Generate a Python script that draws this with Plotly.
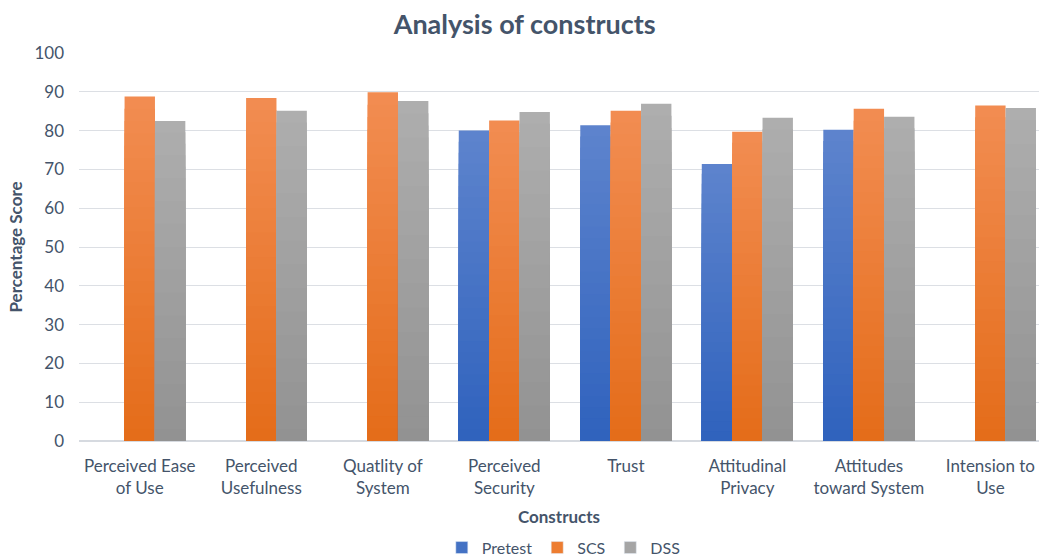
import plotly.graph_objects as go

# Constructs and scores (%)
categories = [
    "Perceived Ease<br>of Use",
    "Perceived<br>Usefulness",
    "Quatlity of<br>System",
    "Perceived<br>Security",
    "Trust",
    "Attitudinal<br>Privacy",
    "Attitudes<br>toward System",
    "Intension to<br>Use",
]
pretest = [None, None, None, 80.0, 81.4, 71.4, 80.2, None]
scs = [88.8, 88.4, 89.9, 82.6, 85.1, 79.7, 85.6, 86.5]
dss = [82.5, 85.1, 87.6, 84.8, 86.9, 83.3, 83.6, 85.8]

series_names = ["Pretest", "SCS", "DSS"]
series_values = [pretest, scs, dss]
# (top colour, bottom colour, legend colour) for the vertical gradient fill
series_colors = [
    ("#5E84CD", "#2F62BD", "#4472C4"),
    ("#F28D52", "#E46C19", "#ED7D31"),
    ("#AEAEAE", "#929292", "#A5A5A5"),
]
offsets = [-0.375, -0.125, 0.125]

TEXT = "#44546A"
FONT = "Lato, 'Open Sans', sans-serif"
N_STEPS = 28


def hex_to_rgb(h):
    h = h.lstrip("#")
    return tuple(int(h[i:i + 2], 16) for i in (0, 2, 4))


def mix(top, bottom, t):
    a, b = hex_to_rgb(top), hex_to_rgb(bottom)
    c = [round(b[i] + (a[i] - b[i]) * t) for i in range(3)]
    return "rgb({},{},{})".format(*c)


x_idx = list(range(len(categories)))
fig = go.Figure()

for name, vals, (top, bottom, legend_col), off in zip(series_names, series_values, series_colors, offsets):
    # stacked overlays of decreasing height give each bar a top-to-bottom gradient
    for k in range(N_STEPS):
        frac = (N_STEPS - k) / N_STEPS
        t = (N_STEPS - k - 0.5) / N_STEPS
        heights = [None if v is None else v * frac for v in vals]
        fig.add_trace(go.Bar(
            x=x_idx, y=heights, width=0.25, offset=off,
            marker=dict(color=mix(top, bottom, t), line=dict(width=0)),
            showlegend=False, hoverinfo="skip",
        ))
    # legend entry
    fig.add_trace(go.Bar(
        x=x_idx, y=[None] * len(x_idx), name=name,
        marker=dict(color=legend_col), showlegend=True,
    ))

fig.update_layout(
    width=1039, height=556,
    barmode="overlay",
    plot_bgcolor="white", paper_bgcolor="white",
    margin=dict(l=79, r=0, t=53, b=115, autoexpand=False),
    font=dict(family=FONT, color=TEXT, size=17),
    title=dict(
        text="<b>Analysis of constructs</b>",
        x=0.505, xanchor="center", y=0.955, yanchor="middle",
        font=dict(size=27, color=TEXT, family=FONT),
    ),
    legend=dict(
        orientation="h", x=0.505, xanchor="center",
        yref="container", y=0.015, yanchor="middle",
        font=dict(size=16, color=TEXT), itemwidth=30, traceorder="normal",
    ),
    xaxis=dict(
        type="linear", automargin=False,
        tickmode="array", tickvals=x_idx, ticktext=categories,
        range=[-0.5, 7.4],
        showgrid=False, zeroline=False,
        showline=False, ticks="",
        tickfont=dict(size=17, color=TEXT),
        ticklabelstandoff=13,
        title=dict(text="<b>Constructs</b>", font=dict(size=17, color=TEXT), standoff=14),
    ),
    yaxis=dict(
        range=[0, 100], dtick=10, automargin=False,
        showgrid=True, gridcolor="#DCDFE4", gridwidth=1,
        zeroline=True, zerolinecolor="#D6DAE0", zerolinewidth=1.5,
        tickfont=dict(size=17, color=TEXT),
        ticklabelstandoff=14,
        title=dict(text="<b>Percentage Score</b>", font=dict(size=17, color=TEXT), standoff=7),
    ),
)

fig.write_html("out.html")
